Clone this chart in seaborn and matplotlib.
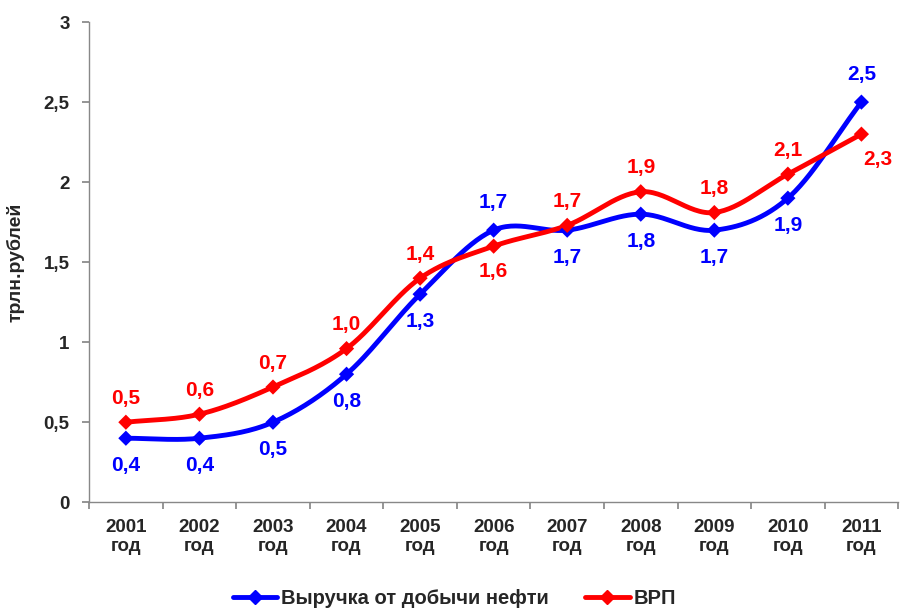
import numpy as np
import pandas as pd
import matplotlib
matplotlib.use("Agg")
import matplotlib.pyplot as plt
import seaborn as sns

years = ["2001", "2002", "2003", "2004", "2005", "2006", "2007", "2008", "2009", "2010", "2011"]
oil = [0.4, 0.4, 0.5, 0.8, 1.3, 1.7, 1.7, 1.8, 1.7, 1.9, 2.5]
grp = [0.5, 0.55, 0.72, 0.96, 1.4, 1.6, 1.73, 1.94, 1.81, 2.05, 2.3]
oil_labels = ["0,4", "0,4", "0,5", "0,8", "1,3", "1,7", "1,7", "1,8", "1,7", "1,9", "2,5"]
grp_labels = ["0,5", "0,6", "0,7", "1,0", "1,4", "1,6", "1,7", "1,9", "1,8", "2,1", "2,3"]
oil_name = "Выручка от добычи нефти"
grp_name = "ВРП"
ytick_vals = [0, 0.5, 1, 1.5, 2, 2.5, 3]
ytick_labels = ["0", "0,5", "1", "1,5", "2", "2,5", "3"]

sns.set_theme(style="white")
plt.rcParams['font.family'] = ['Liberation Sans', 'DejaVu Sans']
plt.rcParams['font.weight'] = 'bold'

BLUE = "#0000ff"
RED = "#ff0000"


def smooth(xs, ys, n=30):
    # Catmull-Rom style curve through the points (as in Excel smoothed lines)
    xs = np.asarray(xs, float)
    ys = np.asarray(ys, float)
    px = np.concatenate([[2 * xs[0] - xs[1]], xs, [2 * xs[-1] - xs[-2]]])
    py = np.concatenate([[2 * ys[0] - ys[1]], ys, [2 * ys[-1] - ys[-2]]])
    ox, oy = [], []
    for i in range(1, len(px) - 2):
        t = np.linspace(0, 1, n, endpoint=False)
        for arr, out in ((px, ox), (py, oy)):
            p0, p1, p2, p3 = arr[i - 1], arr[i], arr[i + 1], arr[i + 2]
            out.extend(0.5 * ((2 * p1) + (-p0 + p2) * t + (2 * p0 - 5 * p1 + 4 * p2 - p3) * t ** 2
                              + (-p0 + 3 * p1 - 3 * p2 + p3) * t ** 3))
    ox.append(xs[-1]); oy.append(ys[-1])
    return np.array(ox), np.array(oy)


fig = plt.figure(figsize=(9, 6.14), dpi=100)
ax = fig.add_axes([0.099, 0.182, 0.899, 0.782])

x = np.arange(len(years))
df = pd.DataFrame({"x": np.concatenate([x, x]),
                   "value": oil + grp,
                   "series": [oil_name] * len(x) + [grp_name] * len(x)})

for name, vals, col in ((oil_name, oil, BLUE), (grp_name, grp, RED)):
    sx, sy = smooth(x, vals)
    ax.plot(sx, sy, color=col, lw=3.5, solid_capstyle="round", zorder=2)

sns.scatterplot(data=df, x="x", y="value", hue="series", palette={oil_name: BLUE, grp_name: RED},
                marker="D", s=60, edgecolor="none", ax=ax, legend=False, zorder=3)

# data labels
oil_pos = ["below"] * 5 + ["above"] + ["below"] * 4 + ["above"]
grp_pos = ["above"] * 5 + ["below"] + ["above"] * 4 + ["below"]
for i in range(len(x)):
    dy = 0.17 if oil_pos[i] == "above" else -0.17
    ax.text(x[i], oil[i] + dy, oil_labels[i], color=BLUE, ha="center", va="center",
            fontsize=15, fontweight="bold")
    dx = 0.22 if i == len(x) - 1 else 0
    dy = 0.15 if grp_pos[i] == "above" else -0.16
    ax.text(x[i] + dx, grp[i] + dy, grp_labels[i], color=RED, ha="center", va="center",
            fontsize=15, fontweight="bold")

ax.set_xlim(-0.5, len(x) - 0.5)
ax.set_ylim(0, 3)
ax.set_yticks(ytick_vals)
ax.set_yticklabels(ytick_labels, fontsize=13.5, fontweight="bold")
ax.set_xticks(np.arange(len(x) + 1) - 0.5)
ax.set_xticklabels([])
ax.set_xticks(x, minor=True)
ax.set_xticklabels([f"{y}\nгод" for y in years], minor=True, fontsize=13.5, fontweight="bold",
                   linespacing=1.15)
ax.tick_params(axis="x", which="minor", length=0, pad=12)
ax.tick_params(axis="x", which="major", length=5, color="#888888", direction="out", bottom=True)
ax.tick_params(axis="y", length=5, color="#888888", direction="out", left=True, pad=9)
ax.set_xlabel("")
ax.set_ylabel("трлн.рублей", fontsize=14, fontweight="bold", labelpad=14)
for side in ("top", "right"):
    ax.spines[side].set_visible(False)
for side in ("left", "bottom"):
    ax.spines[side].set_color("#888888")
    ax.spines[side].set_linewidth(1)

from matplotlib.lines import Line2D
handles = [Line2D([0], [0], color=BLUE, lw=3.5, marker="D", markersize=7),
           Line2D([0], [0], color=RED, lw=3.5, marker="D", markersize=7)]
fig.legend(handles, [oil_name, grp_name], loc="lower center", bbox_to_anchor=(0.505, -0.02),
           ncol=2, frameon=False, prop={"size": 14.5, "weight": "bold"}, handlelength=2.2,
           columnspacing=1.8, handletextpad=0.2)

fig.savefig("out.png", dpi=100)
